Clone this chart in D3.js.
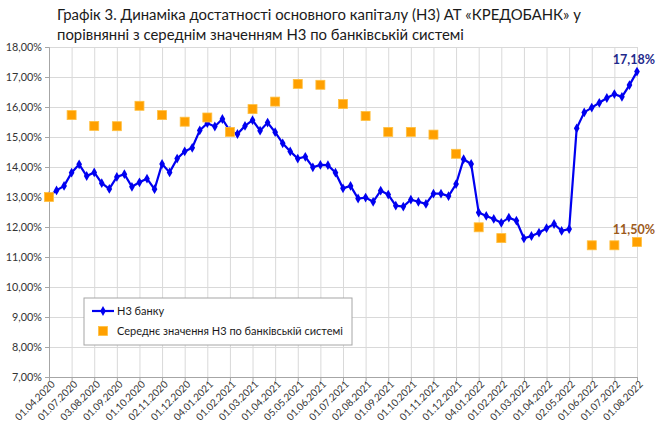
<!DOCTYPE html>
<html>
<head>
<meta charset="utf-8">
<script src="https://cdn.jsdelivr.net/npm/d3@7"></script>
<style>
  body { margin: 0; background: #fff; }
  text { font-family: Lato, "Open Sans", sans-serif; }
</style>
</head>
<body>
<script>
var w = 656;
var h = 423;

// labels on the axis, one per 3 categories
var tickLabels = ["01.04.2020", "01.07.2020", "03.08.2020", "01.09.2020", "01.10.2020", "02.11.2020",
    "01.12.2020", "04.01.2021", "01.02.2021", "01.03.2021", "01.04.2021", "05.05.2021", "01.06.2021",
    "01.07.2021", "02.08.2021", "01.09.2021", "01.10.2021", "01.11.2021", "01.12.2021", "04.01.2022",
    "01.02.2022", "01.03.2022", "01.04.2022", "02.05.2022", "01.06.2022", "01.07.2022", "01.08.2022"];

// Н3 банку, every category (%)
var bankValues = [13.03, 13.22, 13.37, 13.81, 14.09, 13.70, 13.82, 13.46, 13.27, 13.67,
    13.76, 13.34, 13.49, 13.61, 13.26, 14.10, 13.82, 14.28, 14.52, 14.64,
    15.22, 15.46, 15.35, 15.60, 15.20, 15.10, 15.37, 15.56, 15.21, 15.48,
    15.16, 14.79, 14.52, 14.28, 14.34, 13.99, 14.07, 14.06, 13.81, 13.29,
    13.37, 12.95, 12.98, 12.84, 13.21, 13.08, 12.71, 12.68, 12.91, 12.84,
    12.77, 13.11, 13.11, 13.03, 13.43, 14.26, 14.10, 12.48, 12.37, 12.27,
    12.14, 12.31, 12.21, 11.62, 11.70, 11.81, 11.96, 12.10, 11.87, 11.93,
    15.29, 15.82, 15.98, 16.14, 16.30, 16.43, 16.34, 16.73, 17.18];

// середнє по системі, one per axis label (%)
var systemValues = [13.00, 15.73, 15.37, 15.36, 16.04, 15.73, 15.51, 15.65, 15.17, 15.93,
    16.18, 16.77, 16.74, 16.10, 15.70, 15.17, 15.17, 15.08, 14.44, 11.99,
    11.63, null, null, null, 11.39, 11.39, 11.50];

var yTicks = [7, 8, 9, 10, 11, 12, 13, 14, 15, 16, 17, 18];

var plotLeft = 49, plotRight = 637, plotTop = 47, plotBottom = 377;

var svg = d3.select("body")
    .append("svg")
    .attr("width", w)
    .attr("height", h);

var x = d3.scalePoint()
    .domain(d3.range(bankValues.length))
    .range([plotLeft, plotRight]);

var y = d3.scaleLinear()
    .domain([7, 18])
    .range([plotBottom, plotTop]);

var fmt = function (d) { return d.toFixed(2).replace(".", ",") + "%"; };

//-----title------
svg.append("text")
    .text("Графік 3. Динаміка достатності основного капіталу (Н3) АТ «КРЕДОБАНК» у")
    .attr("x", 57)
    .attr("y", 20)
    .attr("font-size", 14.9)
    .attr("fill", "#1a1a1a");

svg.append("text")
    .text("порівнянні з середнім значенням Н3 по банківській системі")
    .attr("x", 57)
    .attr("y", 40)
    .attr("font-size", 14.9)
    .attr("fill", "#1a1a1a");

//-----grid------
svg.append("g")
    .attr("transform", "translate(" + plotLeft + ",0)")
    .call(d3.axisLeft(y).tickValues(yTicks).tickSize(-(plotRight - plotLeft)).tickFormat(""))
    .call(function (g) { g.select(".domain").remove(); })
    .selectAll("line").attr("stroke", "#d9d9d9");

svg.append("g")
    .attr("transform", "translate(0," + plotBottom + ")")
    .call(d3.axisBottom(x).tickValues(d3.range(0, bankValues.length, 3)).tickSize(-(plotBottom - plotTop)).tickFormat(""))
    .call(function (g) { g.select(".domain").remove(); })
    .selectAll("line").attr("stroke", "#d9d9d9");

//-----axes------
var yAxis = svg.append("g")
    .attr("transform", "translate(" + plotLeft + ",0)")
    .call(d3.axisLeft(y).tickValues(yTicks).tickSize(4).tickPadding(3).tickFormat(fmt));
yAxis.select(".domain").attr("stroke", "#a6a6a6");
yAxis.selectAll("line").attr("stroke", "#a6a6a6");
yAxis.selectAll("text")
    .attr("font-size", 10.8)
    .attr("fill", "#333");

var xAxis = svg.append("g")
    .attr("transform", "translate(0," + plotBottom + ")")
    .call(d3.axisBottom(x).tickValues(d3.range(0, bankValues.length, 3)).tickSize(4)
        .tickFormat(function (d) { return tickLabels[d / 3]; }));
xAxis.select(".domain").attr("stroke", "#a6a6a6");
xAxis.selectAll("line").attr("stroke", "#a6a6a6");
xAxis.selectAll("text")
    .attr("font-size", 10)
    .attr("fill", "#333")
    .attr("text-anchor", "end")
    .attr("y", 0)
    .attr("dy", 0)
    .attr("transform", "translate(6,8) rotate(-45)");

//-----bank line------
var line = d3.line()
    .x(function (d, i) { return x(i); })
    .y(function (d) { return y(d); });

svg.append("path")
    .datum(bankValues)
    .attr("d", line)
    .attr("fill", "none")
    .attr("stroke", "#0000f0")
    .attr("stroke-width", 2.2);

svg.selectAll(".bankdot")
    .data(bankValues)
    .enter()
    .append("path")
    .attr("class", "bankdot")
    .attr("d", d3.symbol().type(d3.symbolDiamond).size(28))
    .attr("transform", function (d, i) { return "translate(" + x(i) + "," + y(d) + ")"; })
    .attr("fill", "#0000f0");

//-----system squares------
var sys = systemValues
    .map(function (v, k) { return { i: k * 3, v: v }; })
    .filter(function (d) { return d.v !== null; });

svg.selectAll(".sysdot")
    .data(sys)
    .enter()
    .append("rect")
    .attr("class", "sysdot")
    .attr("x", function (d) { return x(d.i) - 4.5; })
    .attr("y", function (d) { return y(d.v) - 4.5; })
    .attr("width", 9)
    .attr("height", 9)
    .attr("fill", "#ffa000")
    .attr("stroke", "#ffc040")
    .attr("stroke-width", 0.8);

//-----end labels------
var lastI = bankValues.length - 1;
svg.append("text")
    .text(fmt(bankValues[lastI]))
    .attr("x", 655)
    .attr("y", y(bankValues[lastI]) - 8)
    .attr("text-anchor", "end")
    .attr("font-size", 12.5)
    .attr("font-weight", "bold")
    .attr("fill", "#1f2a8c");

svg.append("text")
    .text(fmt(systemValues[systemValues.length - 1]))
    .attr("x", 655)
    .attr("y", y(systemValues[systemValues.length - 1]) - 8)
    .attr("text-anchor", "end")
    .attr("font-size", 12.5)
    .attr("font-weight", "bold")
    .attr("fill", "#9c5a1a");

//-----legend------
var lg = svg.append("g").attr("transform", "translate(84,298)");
lg.append("rect")
    .attr("width", 268)
    .attr("height", 47)
    .attr("fill", "#fff")
    .attr("stroke", "#a6a6a6");

lg.append("line")
    .attr("x1", 8).attr("x2", 30)
    .attr("y1", 13).attr("y2", 13)
    .attr("stroke", "#0000f0")
    .attr("stroke-width", 2.2);
lg.append("path")
    .attr("d", d3.symbol().type(d3.symbolDiamond).size(28))
    .attr("transform", "translate(19,13)")
    .attr("fill", "#0000f0");
lg.append("text")
    .text("Н3 банку")
    .attr("x", 33)
    .attr("y", 17)
    .attr("font-size", 11)
    .attr("fill", "#1a1a1a");

lg.append("rect")
    .attr("x", 14.5).attr("y", 28.5)
    .attr("width", 9).attr("height", 9)
    .attr("fill", "#ffa000")
    .attr("stroke", "#ffc040")
    .attr("stroke-width", 0.8);
lg.append("text")
    .text("Середнє значення Н3 по банківській системі")
    .attr("x", 33)
    .attr("y", 37)
    .attr("font-size", 11)
    .attr("fill", "#1a1a1a");
</script>
</body>
</html>
